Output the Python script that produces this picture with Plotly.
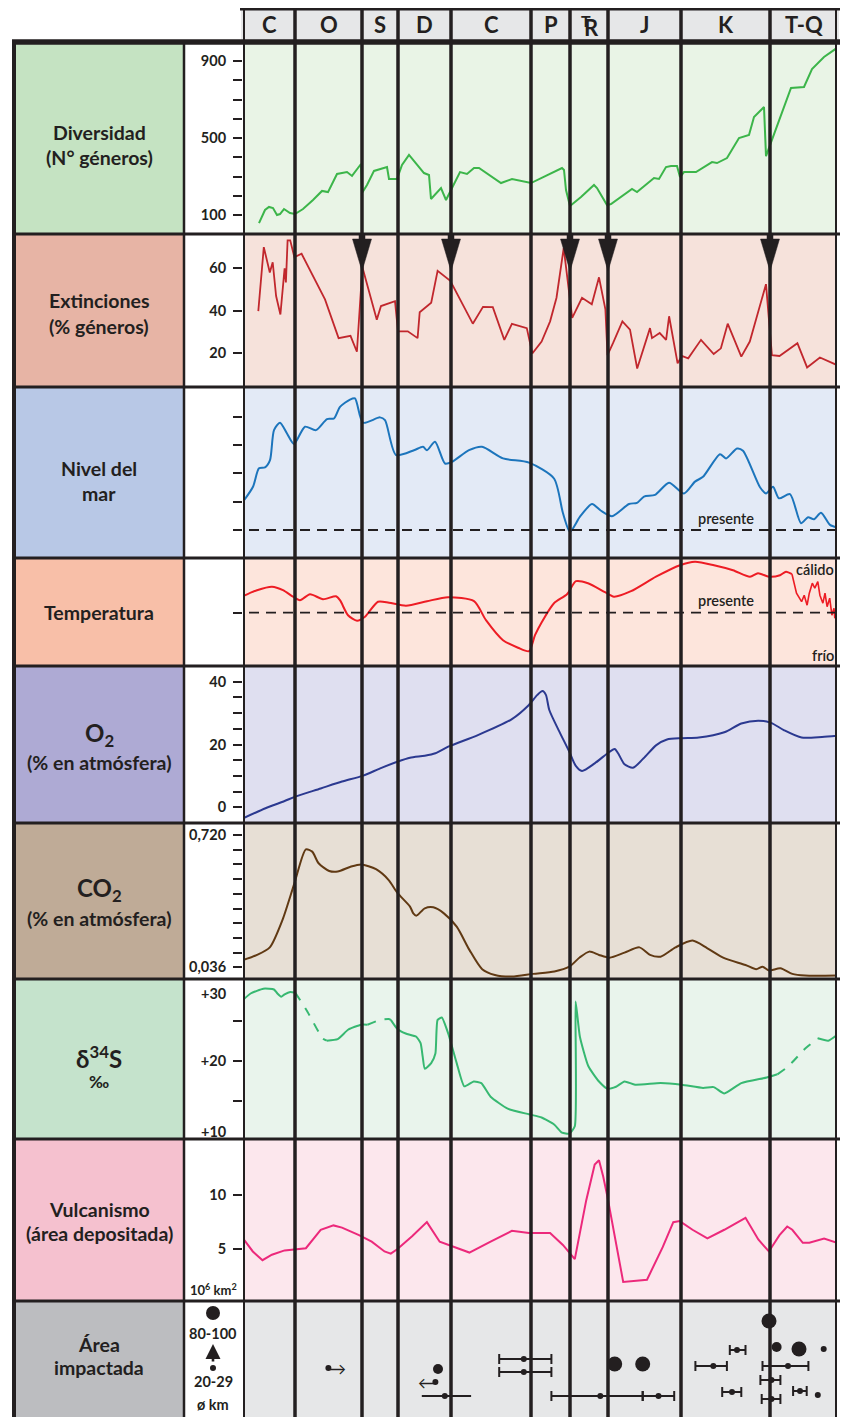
import plotly.graph_objects as go

# The page body keeps the browser's default 8px margin, so the figure is sized to fill
# the remaining window and page pixels are converted with that offset.
PAGE_W, PAGE_H, BODY = 848, 1417, 8
W, H = PAGE_W - BODY, PAGE_H - BODY

# ---------------- data (schematic time axis: 0 = base of Cambrian, 594 = present) -------------
period_names = ['C', 'O', 'S', 'D', 'C', 'P', 'TR', 'J', 'K', 'T-Q']
period_edges = [0, 52, 119, 155, 208, 288, 327, 365, 438, 527, 594]
extinction_events = [119, 208, 327, 365, 527]

div_x = [16, 22, 26, 30, 34, 37, 41, 47, 52, 60, 70, 79, 85, 94, 104, 109, 118, 119, 124, 131,
         144, 146, 154, 159, 166, 181, 186, 188, 198, 203, 208, 217, 224, 231, 236, 258, 269, 288, 319, 321,
         323, 327, 338, 351, 354, 364, 368, 389, 394, 411, 416, 423, 428, 434, 437, 441, 453, 469, 474, 484,
         496, 506, 511, 521, 523, 534, 548, 561, 569, 581, 594]
div_y = [58, 126, 142, 136, 100, 105, 131, 110, 105, 131, 178, 225, 219, 313, 323, 303, 365, 214, 256, 329,
         349, 287, 287, 360, 412, 318, 308, 183, 240, 178, 230, 323, 313, 344, 344, 266, 287, 266, 344, 334,
         230, 147, 193, 256, 240, 152, 157, 235, 219, 292, 287, 349, 355, 355, 297, 323, 323, 375, 370, 396,
         500, 516, 609, 661, 406, 557, 760, 765, 858, 921, 968]

ext_x = [15.3, 20.8, 26.8, 29.7, 33.1, 37.4, 41.6, 42.9, 44.6, 47.2, 51.4, 58.6, 82, 95.6, 107.5, 113.9,
         119.4, 133.8, 138, 152, 155, 164.8, 174.6, 176.7, 188.2, 194.6, 207.3, 229.8, 240, 249.8, 261.3,
         268.9, 283.8, 289.3, 298.6, 307.1, 313.5, 320.7, 329.2, 339, 348.8, 356, 362.4, 364.5, 370, 379.4,
         387, 394.2, 407, 409, 416.7, 423.1, 426.1, 434.6, 438.8, 445.2, 458, 470.7, 477.9, 484.7, 498.3,
         506.8, 523, 528.9, 536.5, 554.4, 564.1, 576.9, 594]
ext_y = [39.7, 69.8, 57.9, 62.7, 46.8, 38.1, 59.8, 53.2, 73, 73, 65.1, 66.7, 45.2, 27, 28.1, 20.6,
         60.3, 35.7, 42.1, 44.4, 30.2, 30.2, 27, 39.2, 43.7, 58.7, 54, 33.8, 41.7, 41.6, 26.2,
         33.7, 31.7, 19.8, 25.4, 34.9, 46, 69.4, 36.5, 46, 42.9, 55.6, 40.5, 19, 24.6, 34.9,
         31, 12.7, 31.7, 27, 29.4, 26.2, 37.3, 15.1, 18.6, 17.5, 26.2, 19.5, 22.2, 33.8, 18.3,
         25.4, 52.4, 19, 18.6, 24.6, 13.2, 17.9, 14.3]

sea_x = [0, 10, 16, 22, 27, 31, 37, 44, 51, 62, 73, 84, 91, 97, 107, 112, 120, 137, 142, 153,
         171, 180, 184, 192, 202, 209, 226, 239, 260, 286, 311, 320, 327, 337, 349, 358, 369, 386, 394, 401,
         412, 426, 441, 452, 460, 477, 483, 494, 500, 517, 523, 530, 536, 547, 558, 565, 571, 578, 587, 594]
sea_y = [100, 153, 218, 221, 247, 353, 379, 341, 304, 365, 353, 392, 394, 435, 461, 465, 379, 398, 388, 265,
         282, 294, 282, 312, 235, 241, 282, 294, 253, 238, 182, 59, -6, 47, 92, 68, 49, 92, 96, 118,
         124, 167, 129, 171, 188, 268, 253, 288, 280, 151, 129, 153, 112, 127, 24, 45, 38, 61, 18, 9]

temp_x = [0, 14, 29, 40, 50, 57, 67, 80, 93, 97, 105, 114, 122, 135, 146, 163, 184, 205, 231, 243,
          260, 275, 286, 292, 299, 311, 324, 333, 345, 362, 371, 388, 413, 437, 452, 471, 490, 507, 515, 526,
          537, 543, 549, 553.5, 558.6, 561.2, 564.1, 566.3, 569.3, 571.8, 574.8, 576.9, 579.9, 582, 584.1,
          586.7, 588.9, 591, 591.8, 594]
temp_y = [3.3, 4.5, 5.2, 4.5, 3.2, 2.5, 3.7, 2.7, 3.3, 2.5, -0.5, -1.6, -0.8, 2.2, 2.0, 1.4, 2.3, 3.1, 2.3, -1.5,
          -5.5, -7.0, -7.7, -4.5, -1.8, 1.9, 3.7, 6.3, 5.9, 4.1, 3.2, 4.3, 7.2, 9.5, 10.2, 9.5, 8.5, 7.2, 7.9, 7.2,
          7.5, 8.2, 7.7, 3.9, 2.2, 3.5, 1.5, 3.9, 5.9, 4.9, 6.2, 3.5, 1.9, 3.9, 1.2,
          2.9, -0.5, 0.9, -1.1, 0.5]
temp_highres_from = 549

o2_x = [0, 22.5, 41.6, 52.3, 77.7, 99, 120.2, 137.2, 154.2, 167, 181.8, 192.4, 205.2, 234.9, 268.9, 285.9,
        294.4, 299.5, 302.9, 306.3, 315.6, 326.3, 332.6, 339, 351.7, 366.6, 371.7, 375.1, 381.5, 390, 400.6,
        413.3, 424, 438.8, 455.8, 481.3, 498.3, 515.3, 528.1, 540.8, 558.6, 579, 594]
o2_y = [-3.5, -0.3, 2.0, 3.4, 6.0, 8.2, 10.1, 12.4, 14.5, 15.8, 16.4, 17.2, 19.3, 23.0, 28.1, 32.6,
        35.8, 37.0, 35.8, 31.0, 24.6, 17.7, 13.3, 11.6, 14.0, 17.7, 18.6, 17.2, 13.7, 12.6, 15.6,
        19.8, 21.6, 22.0, 22.2, 23.9, 26.7, 27.6, 26.9, 24.6, 22.2, 22.4, 22.8]

co2_x = [0, 14, 26.8, 39.5, 51.4, 62.9, 69.2, 75.6, 86.2, 94.7, 107.5, 118.1, 133, 145.7, 154.2, 167,
         170.3, 173.3, 181.8, 190.3, 200.9, 213.7, 226.4, 239.2, 251.9, 268.9, 290.1, 311.4, 326.3, 336.9,
         346.3, 356, 366.6, 381.5, 396.4, 407, 417.6, 432.5, 449.5, 464.4, 481.3, 502.5, 513.2, 519.6,
         525.9, 537.4, 549.3, 562, 594]
co2_y = [0.074, 0.100, 0.139, 0.281, 0.470, 0.646, 0.634, 0.574, 0.534, 0.531, 0.556, 0.568, 0.543, 0.487,
         0.422, 0.350, 0.315, 0.303, 0.341, 0.346, 0.315, 0.246, 0.126, 0.026, -0.004, -0.012, 0.002, 0.014,
         0.039, 0.088, 0.117, 0.100, 0.086, 0.112, 0.139, 0.100, 0.091, 0.139, 0.174, 0.134, 0.083, 0.048,
         0.026, 0.039, 0.019, 0.031, 0.002, -0.007, -0.007]

d34s_x = [0, 7.6, 20.4, 31, 34.4, 38.2, 41.6, 47.2, 52.3, 64.6, 79.5, 83.8, 94.7, 105.4, 118.1, 124.4,
          137.2, 145.7, 147.8, 154.2, 162.7, 173.3, 177.6, 179.7, 181.8, 188.2, 192.4, 194.6, 198.8, 205.2,
          213.7, 221.3, 230.7, 238.3, 247.6, 264.7, 285.9, 298.6, 311.4, 319, 326.3, 331.8, 332.6, 336.9,
          345.4, 356, 364.5, 373, 381.5, 392.1, 417.6, 438.8, 460.1, 470.7, 481.3, 498.3, 523.8, 534.4,
          545, 562, 574.8, 585.3, 594]
d34s_y = [27.6, 28.4, 29.0, 28.9, 28.4, 28.0, 28.3, 28.6, 28.5, 26.1, 22.8, 22.5, 22.7, 23.9, 24.5, 24.5,
          25.1, 25.2, 25.1, 24.0, 23.4, 23.0, 22.2, 20.5, 19.0, 19.7, 20.9, 25.1, 25.4, 23.4,
          19.7, 16.8, 17.4, 17.2, 15.5, 14.0, 13.3, 12.9, 12.0, 11.0, 10.9, 11.8, 27.4, 23.0,
          19.3, 17.4, 16.5, 16.75, 17.4, 17.0, 17.2, 17.0, 16.6, 16.7, 15.9, 17.2, 17.9, 18.3,
          19.25, 21.5, 22.8, 22.5, 23.2]
d34s_gaps = [(52.3, 83.8), (124.4, 147.8), (534.4, 574.8)]   # dashed (poorly constrained) intervals

vol_x = [0, 9.8, 19.5, 28.9, 41.6, 52.3, 62.9, 77.7, 90.5, 99, 116, 128.7, 141.5, 147.8, 154.2, 169.1,
         183.9, 196.7, 209.4, 226.4, 247.6, 268.9, 285.9, 298.6, 307.1, 319.9, 331.8, 343.2, 351.7, 356,
         360.2, 364.5, 380.2, 404, 419.7, 430.3, 436.7, 449.5, 464.4, 481.3, 502.5, 515.3, 525.9, 536.5,
         544.2, 549.3, 559.8, 566.3, 581.1, 594]
vol_y = [6.0, 4.8, 4.0, 4.5, 4.9, 5.0, 5.1, 6.8, 7.2, 7.0, 6.3, 5.7, 4.8, 4.6, 5.0, 6.2,
         7.5, 5.7, 5.3, 4.7, 5.7, 6.7, 6.5, 6.5, 6.5, 5.4, 4.1, 9.5, 12.8, 13.2,
         11.7, 9.8, 2.0, 2.2, 5.2, 7.5, 7.6, 6.8, 6.0, 6.8, 7.9, 5.9, 4.8, 6.3,
         7.1, 6.8, 5.6, 5.6, 6.0, 5.6]

# impact craters: position, row, diameter class (1 small, 2 medium, 3 large), age range, caps, arrow
imp_x = [85.4, 195, 192.4, 201.8, 280.8, 280.8, 371.7, 399.7, 357.3, 415.5, 494, 470.3, 489,
         526, 533.6, 556, 580.7, 545, 528.5, 557, 574.8, 528.5]
imp_row = [49, 48, 35, 21, 58, 45, 53, 53, 21, 21, 67, 51, 25, 96, 70, 68, 68, 51, 37, 26, 22, 18]
imp_class = [1, 2, 1, 1, 1, 1, 3, 3, 1, 1, 1, 1, 1, 3, 2, 3, 1, 1, 1, 1, 1, 1]
imp_lo = [None, None, None, 178.8, 256.2, 256.2, None, None, 308.4, 399.7, 486.8, 452.4, 479.2,
          None, None, None, None, 519.5, 517.4, 550.1, None, 518.7]
imp_hi = [None, None, None, 228.1, 308.4, 308.4, None, None, 399.7, 431.2, 502.5, 483.9, 498.3,
          None, None, None, None, 565.4, 537.4, 563.7, None, 537.4]
imp_caps = [False, False, False, False, True, True, False, False, True, True, True, True, True,
            False, False, False, False, True, True, True, False, True]
imp_arrow = ['→', '', '←', '', '', '', '', '', '', '', '', '', '', '', '', '', '', '', '', '', '', '']

# ---------------- styling / geometry (page pixels) ----------------
INK = '#231f20'
FONT = 'Lato, "Open Sans", sans-serif'
PLOT_L, PLOT_R = 243, 837
LAB_L, LAB_R = 15, 183
AX_X = 213
LABEL_SIZE, BIG_SIZE, TICK_SIZE, HEAD_SIZE, NOTE_SIZE = 19.5, 24, 14.5, 22, 14.5

panels = [
    dict(top=43, bot=234, lab='#c5e3c2', bg='#e9f4e6', cal=((100, 215), (900, 61))),
    dict(top=234, bot=387, lab='#e7b4a5', bg='#f6e2db', cal=((20, 353), (60, 268))),
    dict(top=387, bot=558, lab='#b8c8e6', bg='#e3eaf6', cal=((0, 530), (100, 501.7))),
    dict(top=558, bot=666, lab='#f8bfa8', bg='#fde5dc', cal=((0, 612.7), (10, 562.7))),
    dict(top=666, bot=823, lab='#aeaad4', bg='#dfdff0', cal=((0, 807.3), (40, 681.7))),
    dict(top=823, bot=979, lab='#bfab97', bg='#e7dfd5', cal=((0.036, 967.3), (0.720, 835))),
    dict(top=979, bot=1139, lab='#c5e3cc', bg='#e9f4ec', cal=((20, 1060.7), (30, 980.7))),
    dict(top=1139, bot=1301, lab='#f5c1cf', bg='#fce7ed', cal=((5, 1249.3), (10, 1195))),
    dict(top=1301, bot=1417, lab='#bcbdc0', bg='#e6e7e8', cal=((0, 1417), (100, 1317))),
]


def prange(p):
    (v1, p1), (v2, p2) = p['cal']
    s = (v2 - v1) / (p2 - p1)
    return [v1 + (p['bot'] - p1) * s, v1 + (p['top'] - p1) * s]


def X(v):
    return (v - BODY) / W


def Y(v):
    return 1 - (v - BODY) / H


fig = go.Figure()


# ---------------- traces ----------------
def add_line(x, y, ax, color, width=2, shape='linear', dash='solid', smoothing=None):
    ln = dict(color=color, width=width, shape=shape, dash=dash)
    if smoothing is not None:
        ln['smoothing'] = smoothing
    fig.add_trace(go.Scatter(x=x, y=y, mode='lines', line=ln, yaxis=ax, xaxis='x',
                             hoverinfo='skip', showlegend=False))


add_line(div_x, div_y, 'y', '#3cb54a', 2)
add_line(ext_x, ext_y, 'y2', '#c1272d', 1.8)
add_line(sea_x, sea_y, 'y3', '#1c75bc', 2, 'spline', smoothing=0.7)

tx_a = [x for x in temp_x if x <= temp_highres_from]
ty_a = temp_y[:len(tx_a)]
add_line(tx_a, ty_a, 'y4', '#ed1c24', 2, 'spline', smoothing=0.7)
add_line(temp_x[len(tx_a) - 1:], temp_y[len(tx_a) - 1:], 'y4', '#ed1c24', 1.6)

add_line(o2_x, o2_y, 'y5', '#2b3990', 2, 'spline', smoothing=0.7)
add_line(co2_x, co2_y, 'y6', '#603913', 2, 'spline', smoothing=0.7)


def in_gap(a, b):
    m = (a + b) / 2
    return any(lo <= m <= hi for lo, hi in d34s_gaps)


seg_x, seg_y, seg_d = [d34s_x[0]], [d34s_y[0]], None
for i in range(1, len(d34s_x)):
    d = in_gap(d34s_x[i - 1], d34s_x[i])
    if seg_d is not None and d != seg_d:
        add_line(seg_x, seg_y, 'y7', '#37b871', 2, 'spline', 'dash' if seg_d else 'solid', 0.5)
        seg_x, seg_y = [d34s_x[i - 1]], [d34s_y[i - 1]]
    seg_d = d
    seg_x.append(d34s_x[i])
    seg_y.append(d34s_y[i])
add_line(seg_x, seg_y, 'y7', '#37b871', 2, 'spline', 'dash' if seg_d else 'solid', 0.5)

add_line(vol_x, vol_y, 'y8', '#ec297b', 2)

# impacts
size_map = {1: 6, 2: 10, 3: 15}
for caps in (True, False):
    idx = [i for i in range(len(imp_x)) if imp_lo[i] is not None and imp_caps[i] == caps]
    if idx:
        fig.add_trace(go.Scatter(
            x=[imp_x[i] for i in idx], y=[imp_row[i] for i in idx], mode='markers',
            marker=dict(color=INK, opacity=1, line_width=0, size=[size_map[imp_class[i]] for i in idx]),
            error_x=dict(type='data', symmetric=False,
                         array=[imp_hi[i] - imp_x[i] for i in idx],
                         arrayminus=[imp_x[i] - imp_lo[i] for i in idx],
                         color=INK, thickness=2, width=5 if caps else 0),
            yaxis='y9', xaxis='x', hoverinfo='skip', showlegend=False))
idx = [i for i in range(len(imp_x)) if imp_lo[i] is None]
fig.add_trace(go.Scatter(
    x=[imp_x[i] for i in idx], y=[imp_row[i] for i in idx], mode='markers',
    marker=dict(color=INK, opacity=1, line_width=0, size=[size_map[imp_class[i]] for i in idx]),
    yaxis='y9', xaxis='x', hoverinfo='skip', showlegend=False))

# ---------------- axes ----------------
layout_axes = {}
layout_axes['xaxis'] = dict(domain=[X(PLOT_L), X(PLOT_R)], range=[period_edges[0], period_edges[-1]],
                            visible=False, fixedrange=True, anchor='y')

tick_specs = [
    dict(vals=[100, 200, 300, 400, 500, 600, 700, 800, 900],
         text=['100', '', '', '', '500', '', '', '', '900']),
    dict(vals=[20, 40, 60], text=['20', '40', '60']),
    dict(vals=[0, 100, 200, 300, 400], text=None),
    dict(vals=[0], text=None),
    dict(vals=[0, 5, 10, 15, 20, 25, 30, 35, 40], text=['0', '', '', '', '20', '', '', '', '40']),
    dict(vals=[round(0.036 + 0.076 * k, 3) for k in range(10)],
         text=['0,036'] + [''] * 8 + ['0,720']),
    dict(vals=[15, 20, 25], text=['', '+20', '']),
    dict(vals=[5, 10], text=['5', '10']),
    None,
]

for i, p in enumerate(panels):
    name = 'yaxis' if i == 0 else f'yaxis{i + 1}'
    ts = tick_specs[i]
    ax = dict(domain=[max(0, Y(p['bot'])), Y(p['top'])], anchor='x',
              showgrid=False, zeroline=False, showline=False, fixedrange=True)
    rng = prange(p)
    if p['bot'] > PAGE_H - BODY:
        # panel runs past the window bottom: clip the range to the visible part
        (v1, p1), (v2, p2) = p['cal']
        s = (v2 - v1) / (p2 - p1)
        rng[0] = v1 + (PAGE_H - p1) * s
        ax['domain'][0] = 0
    ax['range'] = rng
    if ts is None:
        ax.update(showticklabels=False, ticks='')
    else:
        ax.update(ticks='outside', ticklen=9, tickwidth=2, tickcolor=INK, tickmode='array',
                  tickvals=ts['vals'], ticklabelstandoff=4,
                  tickfont=dict(family=FONT, size=TICK_SIZE, color=INK, weight=700))
        if ts['text'] is None:
            ax['showticklabels'] = False
        else:
            ax['ticktext'] = ts['text']
    layout_axes[name] = ax

# ---------------- shapes ----------------
shapes = []
for p in panels:
    shapes.append(dict(type='rect', xref='paper', yref='paper', x0=X(LAB_L), x1=X(LAB_R),
                       y0=Y(p['bot']), y1=Y(p['top']), fillcolor=p['lab'], line_width=0, layer='below'))
    shapes.append(dict(type='rect', xref='paper', yref='paper', x0=X(PLOT_L), x1=X(PLOT_R),
                       y0=Y(p['bot']), y1=Y(p['top']), fillcolor=p['bg'], line_width=0, layer='below'))
# header
shapes.append(dict(type='rect', xref='paper', yref='paper', x0=X(241), x1=X(839), y0=Y(42), y1=Y(8),
                   fillcolor='#e6e7e8', line_width=0, layer='below'))


def hline(y, x0, x1, w):
    shapes.append(dict(type='line', xref='paper', yref='paper', x0=X(x0), x1=X(x1), y0=Y(y), y1=Y(y),
                       line=dict(color=INK, width=w), layer='above'))


def vline(x, y0, y1, w):
    shapes.append(dict(type='line', xref='paper', yref='paper', x0=X(x), x1=X(x), y0=Y(y0), y1=Y(y1),
                       line=dict(color=INK, width=w), layer='above'))


for p in panels[1:]:
    hline(p['top'], 12, 840, 3)
hline(42, 12, 840, 5.5)
hline(9, 240, 840, 3)
vline(14, 40, PAGE_H, 4)
vline(184, 42, PAGE_H, 2.5)

for e in period_edges:
    w = 4 if e in (period_edges[0], period_edges[-1]) else 3.5
    shapes.append(dict(type='line', xref='x', yref='paper', x0=e, x1=e, y0=0, y1=Y(8),
                       line=dict(color=INK, width=w), layer='above'))

# extinction arrows
ext_top = prange(panels[1])[1]
for e in extinction_events:
    shapes.append(dict(type='path', xref='x', yref='y2', xsizemode='pixel', ysizemode='pixel',
                       xanchor=e, yanchor=ext_top,
                       path='M-3,0 L3,0 L3,-5 L9.5,-5 L0,-37 L-9.5,-5 L-3,-5 Z',
                       fillcolor=INK, line=dict(color=INK, width=0.5), layer='above'))

# present-day reference lines
for ax in ('y3', 'y4'):
    shapes.append(dict(type='line', xref='x', yref=ax, x0=period_edges[0] + 6, x1=period_edges[-1],
                       y0=0, y1=0, line=dict(color=INK, width=1.8, dash='10px,7px'), layer='above'))

# impact legend dots
for cx, cy, r in ((AX_X, 1313, 7), (AX_X, 1368, 3)):
    shapes.append(dict(type='circle', xref='paper', yref='paper', x0=X(cx - r), x1=X(cx + r),
                       y0=Y(cy + r), y1=Y(cy - r), fillcolor=INK, line_width=0, layer='above'))

# ---------------- annotations ----------------
ann = []


def txt(x, y, s, size=LABEL_SIZE, weight=700, xanchor='center', **kw):
    ann.append(dict(x=X(x), y=Y(y), xref='paper', yref='paper', text=s, showarrow=False,
                    font=dict(family=FONT, size=size, color=INK, weight=weight),
                    xanchor=xanchor, yanchor='middle', **kw))


LC = (LAB_L + LAB_R) / 2
txt(LC, 132, 'Diversidad')
txt(LC, 157, '(N° géneros)')
txt(LC, 301, 'Extinciones')
txt(LC, 326, '(% géneros)')
txt(LC, 468, 'Nivel del')
txt(LC, 493, 'mar')
txt(LC, 612, 'Temperatura')
txt(LC, 734, 'O<sub>2</sub>', size=BIG_SIZE)
txt(LC, 762, '(% en atmósfera)')
txt(LC, 889, 'CO<sub>2</sub>', size=BIG_SIZE)
txt(LC, 918, '(% en atmósfera)')
txt(LC, 1057, 'δ<sup>34</sup>S', size=BIG_SIZE)
txt(LC, 1081, '‰', size=17)
txt(LC, 1209, 'Vulcanismo')
txt(LC, 1233, '(área depositada)')
txt(LC, 1344, 'Área')
txt(LC, 1367, 'impactada')

# axis-column extras
txt(AX_X + 1, 993, '+30', size=TICK_SIZE)
txt(AX_X + 1, 1131, '+10', size=TICK_SIZE)
txt(AX_X, 1289, '10<sup>6</sup> km<sup>2</sup>', size=13)
txt(AX_X, 1333, '80-100', size=TICK_SIZE)
txt(AX_X, 1381, '20-29', size=TICK_SIZE)
txt(AX_X, 1404, 'ø km', size=TICK_SIZE)
ann.append(dict(x=X(AX_X), y=Y(1344), xref='paper', yref='paper', text='', showarrow=True,
                ax=0, ay=19, arrowhead=2, arrowsize=1.15, arrowwidth=2.6, arrowcolor=INK))

# panel texts
txt(726, 518, 'presente', size=NOTE_SIZE, weight=600)
txt(726, 600, 'presente', size=NOTE_SIZE, weight=600)
txt(836, 569, 'cálido', size=NOTE_SIZE, weight=600, xanchor='right')
txt(836, 655, 'frío', size=NOTE_SIZE, weight=600, xanchor='right')

# period header labels
for i, name in enumerate(period_names):
    c = (period_edges[i] + period_edges[i + 1]) / 2
    if name == 'TR':
        ann.append(dict(x=c, y=Y(28), xref='x', yref='paper', text='R', showarrow=False, xshift=2,
                        font=dict(family=FONT, size=HEAD_SIZE, color=INK, weight=700), yanchor='middle'))
        ann.append(dict(x=c, y=Y(21), xref='x', yref='paper', text='T', showarrow=False, xshift=-3,
                        font=dict(family=FONT, size=16, color=INK, weight=700), yanchor='middle'))
    else:
        ann.append(dict(x=c, y=Y(25), xref='x', yref='paper', text=name, showarrow=False,
                        font=dict(family=FONT, size=HEAD_SIZE, color=INK, weight=700), yanchor='middle'))

# impact direction arrows
for i, a in enumerate(imp_arrow):
    if a:
        ann.append(dict(x=imp_x[i], y=imp_row[i], xref='x', yref='y9', text=a, showarrow=False,
                        xshift=9 if a == '→' else -9,
                        font=dict(family=FONT, size=17, color=INK), yanchor='middle'))

fig.update_layout(
    width=W, height=H, autosize=False,
    margin=dict(l=0, r=0, t=0, b=0),
    paper_bgcolor='white', plot_bgcolor='rgba(0,0,0,0)',
    showlegend=False, shapes=shapes, annotations=ann,
    **layout_axes,
)

fig.write_html('out.html')
